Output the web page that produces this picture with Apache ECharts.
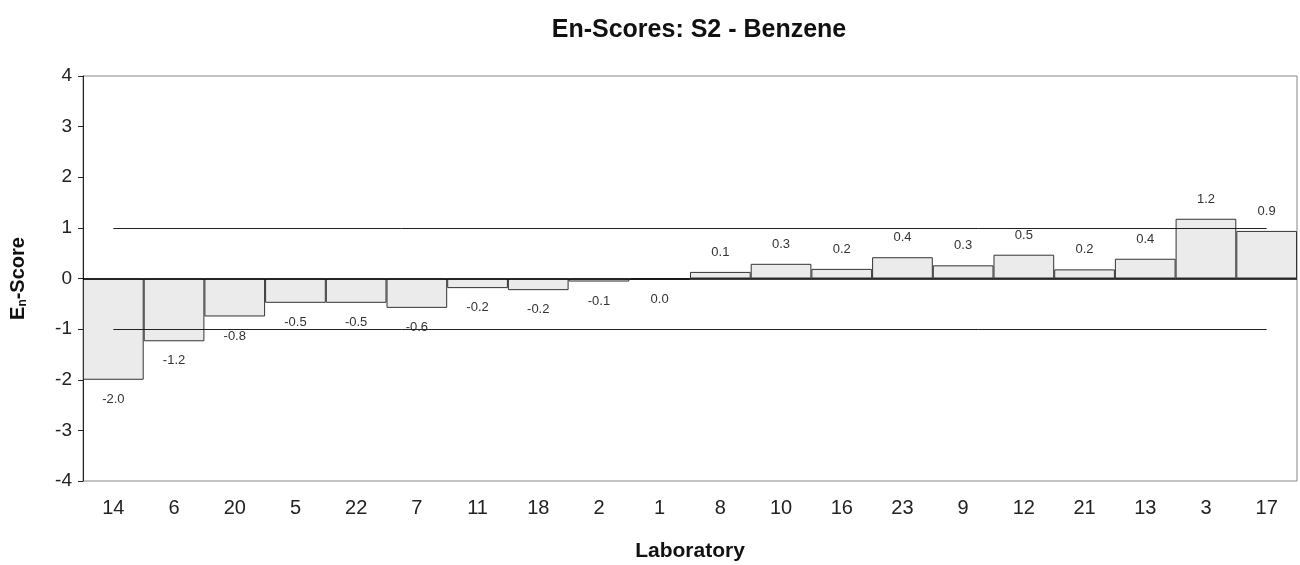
<!DOCTYPE html>
<html>
<head>
<meta charset="utf-8">
<script src="https://cdn.jsdelivr.net/npm/echarts@6/dist/echarts.min.js"></script>
<style>
  html, body { margin: 0; padding: 0; background: #fff; }
  #chart { width: 1300px; height: 565px; }
</style>
</head>
<body>
<div id="chart"></div>
<script>
// Laboratories, sorted by En-score
const laboratories = ['14', '6', '20', '5', '22', '7', '11', '18', '2', '1', '8', '10', '16', '23', '9', '12', '21', '13', '3', '17'];
const enScores = [-2.00, -1.24, -0.75, -0.48, -0.48, -0.58, -0.19, -0.23, -0.06, -0.02, 0.13, 0.29, 0.19, 0.42, 0.26, 0.47, 0.18, 0.39, 1.18, 0.94];
const yTicks = [-4, -3, -2, -1, 0, 1, 2, 3, 4];
const limits = [-1, 1];

const FONT = 'Liberation Sans, Arial, sans-serif';

const fmt = v => {
  const s = v.toFixed(1);
  return s === '-0.0' ? '0.0' : s;
};

const chart = echarts.init(document.getElementById('chart'));

const lastIdx = laboratories.length - 1;
const limitLines = limits.map(l => [
  { coord: [0, l] },
  { coord: [lastIdx, l] }
]);

chart.setOption({
  animation: false,
  title: {
    text: 'En-Scores: S2 - Benzene',
    left: 694,
    top: 13,
    textAlign: 'center',
    textStyle: { fontFamily: FONT, fontSize: 25, fontWeight: 'bold', color: '#111' }
  },
  grid: {
    left: 83, right: 3, top: 76, bottom: 84,
    outerBoundsMode: 'none',
    containLabel: false,
    show: true, borderColor: '#888', borderWidth: 1, backgroundColor: '#fff'
  },
  xAxis: {
    type: 'category',
    data: laboratories,
    name: 'Laboratory',
    nameLocation: 'middle',
    nameGap: 60,
    nameTextStyle: { fontFamily: FONT, fontSize: 21, fontWeight: 'bold', color: '#111' },
    axisLine: { show: false },
    axisTick: { show: false },
    axisLabel: { fontFamily: FONT, fontSize: 20, color: '#222', margin: 17 }
  },
  yAxis: {
    type: 'value',
    min: yTicks[0],
    max: yTicks[yTicks.length - 1],
    interval: 1,
    name: '{e|E}{s|n}{e|-Score}',
    nameLocation: 'middle',
    nameRotate: 90,
    nameGap: 54,
    nameTextStyle: {
      rich: {
        e: { fontFamily: FONT, fontSize: 20, fontWeight: 'bold', color: '#111' },
        s: { fontFamily: FONT, fontSize: 12, fontWeight: 'bold', color: '#111', verticalAlign: 'bottom', padding: [10, 0, 0, 0] }
      }
    },
    splitLine: { show: false },
    axisLine: { show: true, lineStyle: { color: '#222', width: 1 } },
    axisTick: { show: true, length: 5, lineStyle: { color: '#222' } },
    axisLabel: { fontFamily: FONT, fontSize: 19, color: '#222', margin: 11 }
  },
  series: [{
    type: 'bar',
    barCategoryGap: '0%',
    data: enScores.map(v => ({
      value: v,
      label: { position: v < 0 ? 'bottom' : 'top' }
    })),
    itemStyle: { color: '#ebebeb', borderColor: '#333', borderWidth: 1 },
    label: {
      show: true,
      distance: 13,
      formatter: p => fmt(p.value),
      fontFamily: FONT,
      fontSize: 13,
      color: '#333'
    },
    markLine: {
      silent: true,
      symbol: 'none',
      label: { show: false },
      data: [
        { yAxis: 0, lineStyle: { color: '#000', width: 1.5, type: 'solid' } },
        ...limitLines
      ],
      lineStyle: { color: '#222', width: 1, type: 'solid' }
    }
  }]
});
</script>
</body>
</html>
